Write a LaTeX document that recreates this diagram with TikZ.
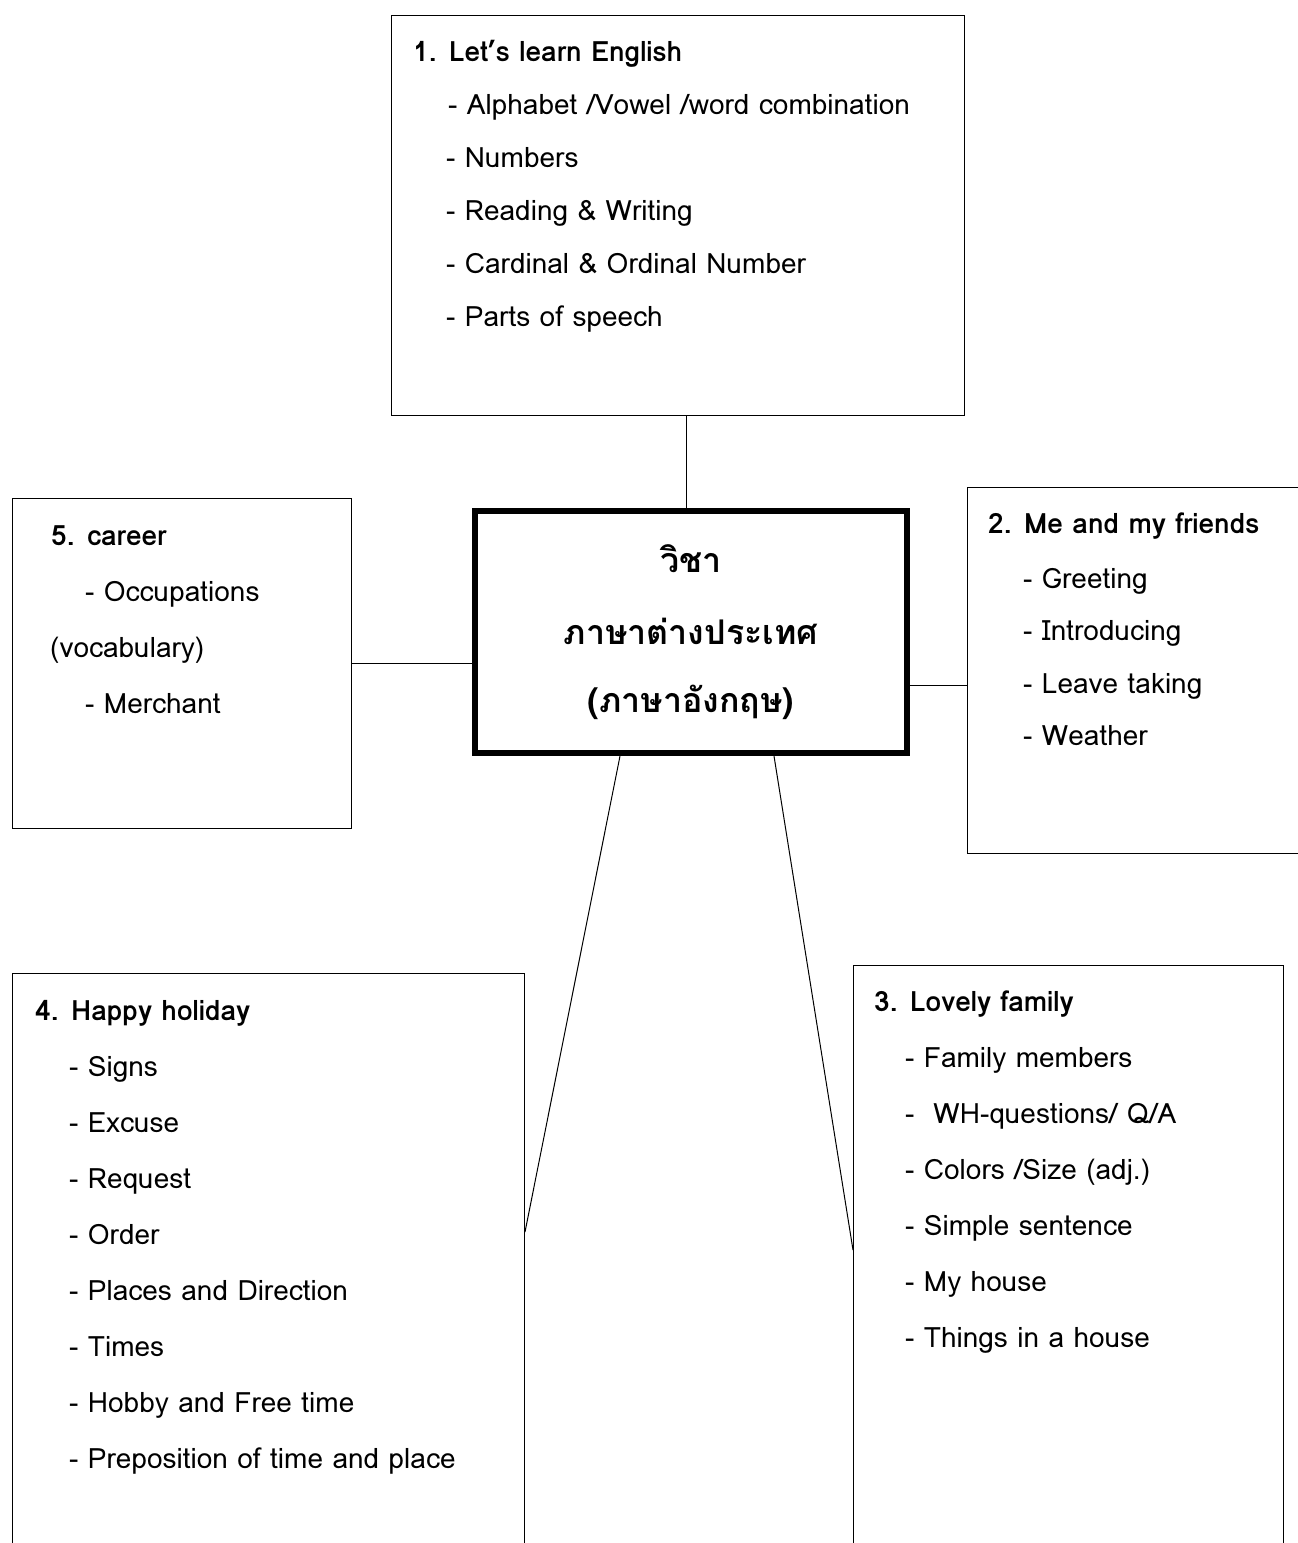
\documentclass[tikz,border=0pt]{standalone}
\usepackage{fontspec}
\setmainfont[Script=Thai]{Loma}
\usetikzlibrary{calc}
\tikzset{
  box/.style={draw, line width=1pt, anchor=north west, inner sep=0pt},
  hub/.style={draw, line width=6pt, inner sep=0pt},
  ttl/.style={anchor=base west, inner sep=0pt, font=\fontsize{28}{32}\selectfont\bfseries},
  itm/.style={anchor=base west, inner sep=0pt, font=\fontsize{28}{32}\selectfont},
  hubtxt/.style={anchor=base, inner sep=0pt, font=\fontsize{34}{40}\selectfont\bfseries},
  link/.style={line width=1pt}
}
\begin{document}
\begin{tikzpicture}[x=1pt,y=-1pt]
\path[use as bounding box, clip] (0,0) rectangle (1298,1543);
\fill[white] (0,0) rectangle (1298,1543);
% boxes
\node[box, minimum width=573pt, minimum height=400pt] (b1) at (391,15) {};
\node[hub, minimum width=432pt, minimum height=242pt] (hub) at (691,632) {};
\node[box, minimum width=339pt, minimum height=330pt] (b5) at (12,498) {};
\node[box, minimum width=360pt, minimum height=366pt] (b2) at (967,487) {};
\node[box, minimum width=512pt, minimum height=640pt] (b4) at (12,973) {};
\node[box, minimum width=430pt, minimum height=640pt] (b3) at (853,965) {};
% hub text
\node[hubtxt] (h1) at (691,572) {วิชา};
\node[hubtxt] (h2) at (691,644) {ภาษาต่างประเทศ};
\node[hubtxt] (h3) at (691,712) {(ภาษาอังกฤษ)};
% box 1
\node[ttl] (t1) at (413,61) {1. Let’s learn English};
\node[itm] (t1a) at (448,114) {- Alphabet /Vowel /word combination};
\node[itm] (t1b) at (446,167) {- Numbers};
\node[itm] (t1c) at (446,220) {- Reading \& Writing};
\node[itm] (t1d) at (446,273) {- Cardinal \& Ordinal Number};
\node[itm] (t1e) at (446,326) {- Parts of speech};
% box 5
\node[ttl] (t5) at (51,545) {5. career};
\node[itm] (t5a) at (85,601) {- Occupations};
\node[itm] (t5b) at (50,657) {(vocabulary)};
\node[itm] (t5c) at (85,713) {- Merchant};
% box 2
\node[ttl] (t2) at (988,533) {2. Me and my friends};
\node[itm] (t2a) at (1023,588) {- Greeting};
\node[itm] (t2b) at (1023,640) {- Introducing};
\node[itm] (t2c) at (1023,693) {- Leave taking};
\node[itm] (t2d) at (1023,745) {- Weather};
% box 4
\node[ttl] (t4) at (35,1020) {4. Happy holiday};
\node[itm] (t4a) at (69,1076) {- Signs};
\node[itm] (t4b) at (69,1132) {- Excuse};
\node[itm] (t4c) at (69,1188) {- Request};
\node[itm] (t4d) at (69,1244) {- Order};
\node[itm] (t4e) at (69,1300) {- Places and Direction};
\node[itm] (t4f) at (69,1356) {- Times};
\node[itm] (t4g) at (69,1412) {- Hobby and Free time};
\node[itm] (t4h) at (69,1468) {- Preposition of time and place};
% box 3
\node[ttl] (t3) at (874,1011) {3. Lovely family};
\node[itm] (t3a) at (905,1067) {- Family members};
\node[itm] (t3b) at (905,1123) {-\ \ WH-questions/ Q/A};
\node[itm] (t3c) at (905,1179) {- Colors /Size (adj.)};
\node[itm] (t3d) at (905,1235) {- Simple sentence};
\node[itm] (t3e) at (905,1291) {- My house};
\node[itm] (t3f) at (905,1347) {- Things in a house};
% connectors
\draw[link] ([xshift=-5pt]hub.north) -- ([xshift=-5pt]hub.north |- b1.south);
\draw[link] (b5.east) -- (b5.east -| hub.west);
\draw[link] ([yshift=-53pt]hub.east) -- ([yshift=-53pt]hub.east -| b2.west);
\draw[link] ([xshift=-71pt]hub.south) -- ([yshift=-259pt]b4.north east);
\draw[link] ([xshift=83pt]hub.south) -- ([yshift=-285pt]b3.north west);
\end{tikzpicture}
\end{document}
